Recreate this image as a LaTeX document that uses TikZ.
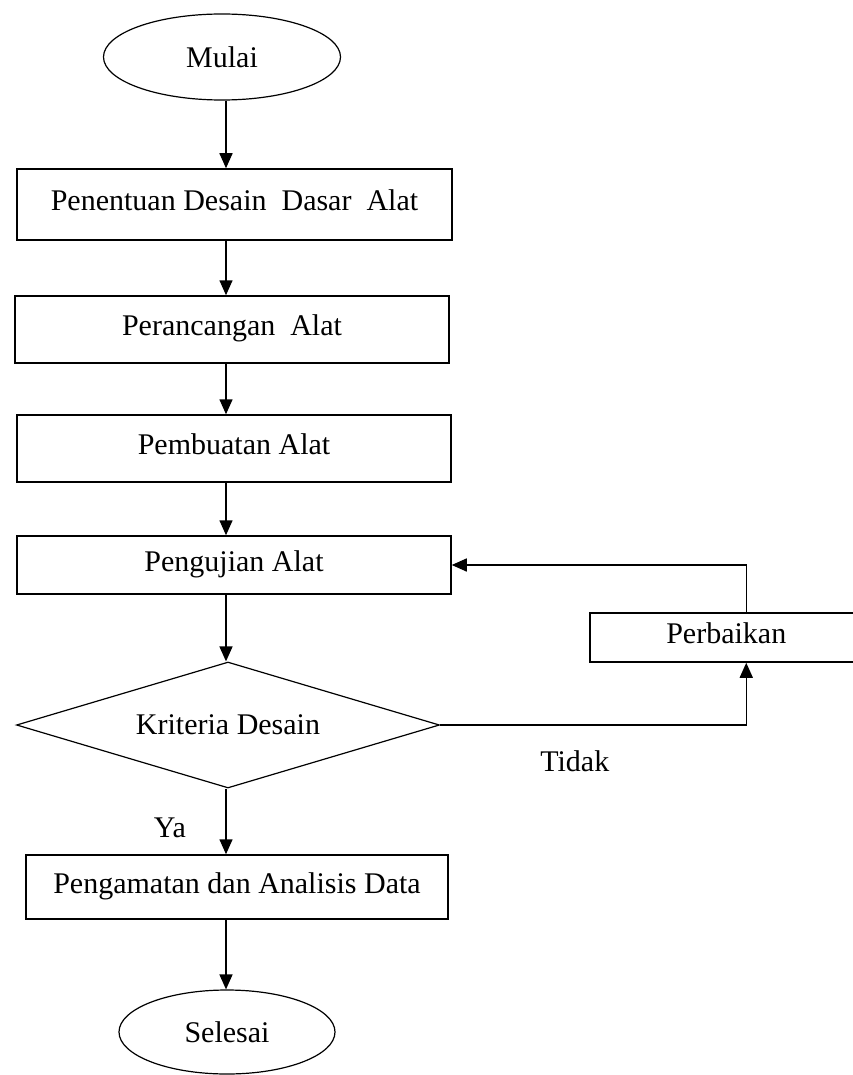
\documentclass[tikz,border=0pt]{standalone}
\usepackage{fontspec}
\setmainfont{Liberation Serif}
\usetikzlibrary{arrows.meta,positioning,shapes.geometric}
\tikzset{langkah/.style={rectangle,draw=black,line width=1.5pt,inner sep=0pt,text depth=8pt}}
\tikzset{terminal/.style={ellipse,draw=black,line width=1.2pt,inner sep=0pt}}
\tikzset{keputusan/.style={diamond,aspect=3.36,draw=black,line width=1.2pt,inner sep=0pt}}

\begin{document}
\begin{tikzpicture}[x=1pt,y=-1pt,>={Triangle[length=15pt,width=13pt]},
  font=\fontsize{30}{36}\selectfont]
\useasboundingbox (0,0) rectangle (852,1075);
% \draw[help lines] (0,0) grid[step=50] (852,1075);
\coordinate (spine) at (226,0);
\node (mulai) [terminal,minimum width=237pt,minimum height=86pt] at (222,57) {Mulai};
\node (desain) [langkah,minimum width=435pt,minimum height=71pt] at (234.5,204.5) {Penentuan Desain\ \ Dasar\ \ Alat};
\node (rancang) [langkah,minimum width=434pt,minimum height=67pt] at (232,329.5) {Perancangan\ \ Alat};
\node (buat) [langkah,minimum width=434pt,minimum height=67pt] at (234,448.5) {Pembuatan Alat};
\node (uji) [langkah,minimum width=434pt,minimum height=58pt] at (234,565) {Pengujian Alat};
\node (kriteria) [keputusan,minimum width=423pt,minimum height=126pt] at (228,725) {Kriteria Desain};
\node (perbaikan) [langkah,minimum width=273pt,minimum height=49pt,anchor=west] at (589,637.5) {Perbaikan};
\node (amati) [langkah,minimum width=422pt,minimum height=64pt] at (237,887) {Pengamatan dan Analisis Data};
\node (selesai) [terminal,minimum width=216pt,minimum height=84pt] at (227,1032) {Selesai};
%
\path[->,line width=1.5pt](mulai.south -| spine) edge (desain.north -| spine);
\path[->,line width=1.5pt](desain.south -| spine) edge (rancang.north -| spine);
\path[->,line width=1.5pt](rancang.south -| spine) edge (buat.north -| spine);
\path[->,line width=1.5pt](buat.south -| spine) edge (uji.north -| spine);
\path[->,line width=1.5pt](uji.south -| spine) edge (kriteria.north -| spine);
\path[->,line width=1.5pt](kriteria.south -| spine) edge node[pos=0.6,left=36pt] {Ya} (amati.north -| spine);
\path[->,line width=1.5pt](amati.south -| spine) edge (selesai.north -| spine);
\draw[->,line width=1.5pt](kriteria.east) -| node[pos=0.22,below=22pt] {Tidak} ([xshift=20pt]perbaikan.south);
\draw[->,line width=1.5pt]([xshift=20pt]perbaikan.north) |- (uji.east);
\end{tikzpicture}
\end{document}
